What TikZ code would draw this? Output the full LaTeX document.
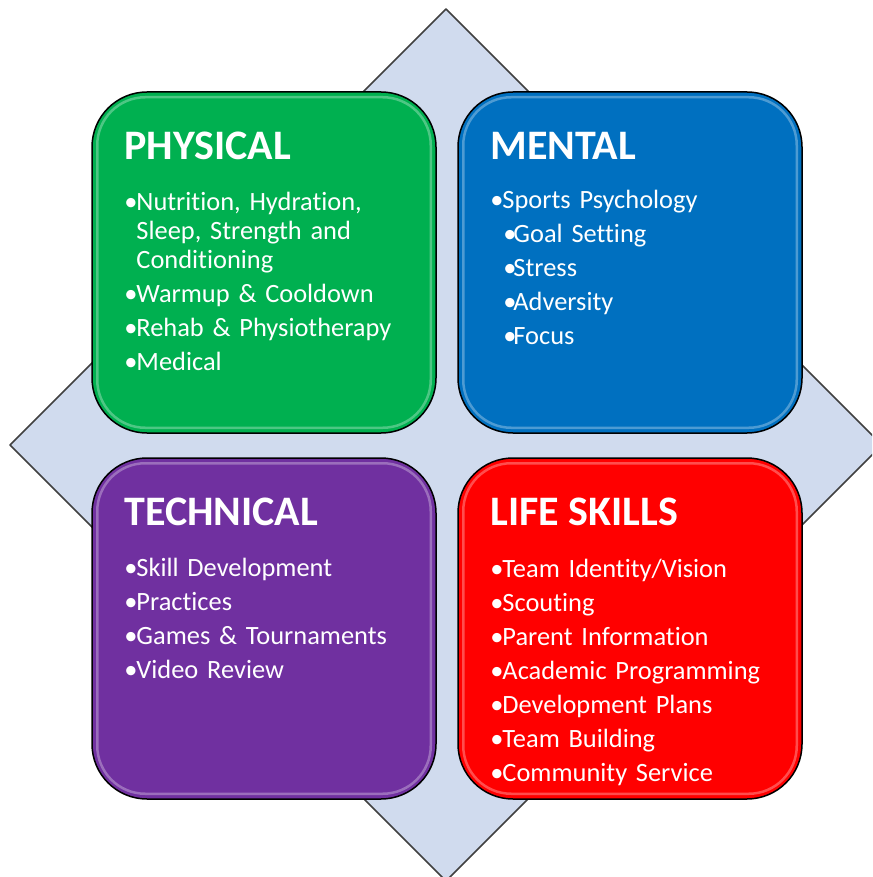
\documentclass[tikz,border=0pt]{standalone}
\usepackage{fontspec}
\setmainfont{Carlito}[Ligatures=NoCommon]
\usetikzlibrary{positioning}
\definecolor{physgreen}{HTML}{00B050}
\definecolor{mentblue}{HTML}{0070C0}
\definecolor{techpurple}{HTML}{7030A0}
\definecolor{lifered}{HTML}{FF0000}
\definecolor{diamondfill}{HTML}{D0DBEE}
\definecolor{diamondline}{HTML}{404040}
\newcommand{\itm}[1]{\makebox[12pt][l]{\textbullet}#1}
\newcommand{\subitm}[1]{\hspace*{13pt}\makebox[10pt][l]{\textbullet}#1}
\newcommand{\hang}{\hspace*{12pt}}
\tikzset{
  quad/.style={draw=black, line width=1.5pt, rounded corners=55pt,
    minimum width=344pt, minimum height=341pt, inner sep=0pt},
  glint/.style={draw=white, opacity=0.3, line width=2.5pt, rounded corners=48pt},
  heading/.style={anchor=base west, inner sep=0pt, text=white,
    font=\fontsize{42}{46}\selectfont\bfseries},
  items/.style={anchor=base west, inner sep=0pt, text=white, align=left,
    text width=320pt, font=\fontsize{26.4}{29}\selectfont},
}
\begin{document}
\begin{tikzpicture}[x=1pt,y=-1pt]
\clip (0,0) rectangle (872,877);
\draw[fill=diamondfill, draw=diamondline, line width=1.5pt, line join=round]
  (446,9) -- (10,445) -- (446,881) -- (882,445) -- cycle;

\node[quad, fill=physgreen] (phys) at (264,262.5) {};
\node[quad, fill=mentblue] (ment) at (630,262.5) {};
\node[quad, fill=techpurple] (tech) at (264,628.5) {};
\node[quad, fill=lifered] (life) at (630,628.5) {};

\foreach \b in {phys,ment,tech,life}
  \draw[glint] ([shift={(6,6)}]\b.north west) rectangle ([shift={(-6,-6)}]\b.south east);

\node[heading] (physhead) at ([shift={(33,68)}]phys.north west) {PHYSICAL};
\node[heading] (menthead) at ([shift={(33,68)}]ment.north west) {MENTAL};
\node[heading] (techhead) at ([shift={(33,68)}]tech.north west) {TECHNICAL};
\node[heading] (lifehead) at ([shift={(33,68)}]life.north west) {LIFE SKILLS};

\node[items] (physlist) at ([shift={(33,119)}]phys.north west)
  {\itm{Nutrition, Hydration,}\\\hang Sleep, Strength and\\\hang Conditioning\\[5pt]
   \itm{Warmup \& Cooldown}\\[5pt]\itm{Rehab \& Physiotherapy}\\[5pt]\itm{Medical}};
\node[items] (mentlist) at ([shift={(33,117)}]ment.north west)
  {\itm{Sports Psychology}\\[5pt]\subitm{Goal Setting}\\[5pt]\subitm{Stress}\\[5pt]
   \subitm{Adversity}\\[5pt]\subitm{Focus}};
\node[items] (techlist) at ([shift={(33,119)}]tech.north west)
  {\itm{Skill Development}\\[5pt]\itm{Practices}\\[5pt]\itm{Games \& Tournaments}\\[5pt]
   \itm{Video Review}};
\node[items] (lifelist) at ([shift={(33,120)}]life.north west)
  {\itm{Team Identity/Vision}\\[5pt]\itm{Scouting}\\[5pt]\itm{Parent Information}\\[5pt]
   \itm{Academic Programming}\\[5pt]\itm{Development Plans}\\[5pt]\itm{Team Building}\\[5pt]
   \itm{Community Service}};
\end{tikzpicture}
\end{document}
